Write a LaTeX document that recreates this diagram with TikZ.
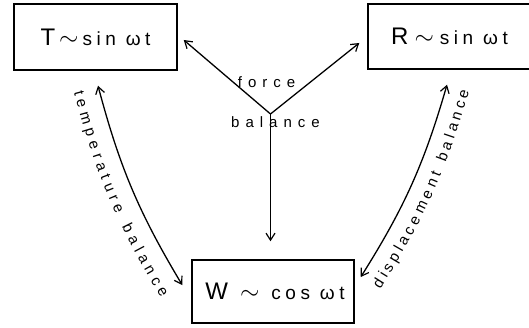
\documentclass[tikz,border=0pt]{standalone}
\usepackage{fontspec}
\setmainfont{Liberation Sans}
\newfontfamily\spaced[LetterSpace=40]{Liberation Sans}
\newfontfamily\boxspaced[LetterSpace=24]{Liberation Sans}
\usetikzlibrary{arrows.meta,decorations.text}

% label of a state box: big letter, wave, spaced function
\newcommand\statelabel[3]{{\fontsize{24}{24}\selectfont #1\hspace{#3}$\sim$}\hspace{#3}{\boxspaced\fontsize{19}{19}\selectfont #2}}
\newcommand\pathfont{\fontsize{15}{17}\selectfont}

\begin{document}
\begin{tikzpicture}[
  x=1pt, y=1pt,
  state/.style={draw, line width=1.5pt, minimum width=163pt, minimum height=66pt, inner sep=0pt},
  barb/.tip={Straight Barb[length=7pt, width=9pt, line width=1.2pt]},
  flow/.style={-barb, line width=1.3pt},
  link/.style={barb-barb, line width=1.3pt},
  tag/.style={font=\spaced\fontsize{15}{17}\selectfont, inner sep=0pt},
  alongtext/.style={decorate, decoration={text along path, text align={fit to path}, raise=#1}}
]
\useasboundingbox (0,0) rectangle (529,327);

\node[state] (T) at (95.5,290) {\statelabel{T}{sin ωt}{4pt}\hspace{12pt}};
\node[state, minimum height=65pt] (R) at (449.5,290.5) {\statelabel{R}{sin ωt}{6pt}};
\node[state, minimum width=162pt, minimum height=63pt] (W) at (273,35.5) {\hspace{4pt}\statelabel{W}{cos ωt}{12pt}};

\coordinate (jn) at (270.5,213);

\node[tag] (force) at (266.5,245) {force};
\node[tag] (balance) at (275.5,205) {balance};

% force balance
\draw[flow] (jn) -- ([shift={(6,-3)}]T.east);
\draw[flow] (jn) -- ([shift={(-8,-6.5)}]R.west);
\draw[flow] (jn) -- ([shift={(-2.5,18)}]W.north);

% temperature balance
\draw[link] ([shift={(2.5,-15)}]T.south) to[bend right=8] ([shift={(-9,6.5)}]W.west);
\path[alongtext=-25pt, decoration={text={|\pathfont|temperature balance}}]
  ([shift={(2.5,-15)}]T.south) to[bend right=8] ([shift={(-9,6.5)}]W.west);

% displacement balance
\draw[link] ([shift={(6,14.5)}]W.east) to[bend right=8] ([shift={(-2.5,-15)}]R.south);
\path[alongtext=-23pt, decoration={text={|\pathfont|displacement balance}}]
  ([shift={(6,14.5)}]W.east) to[bend right=8] ([shift={(-2.5,-15)}]R.south);
\end{tikzpicture}
\end{document}
